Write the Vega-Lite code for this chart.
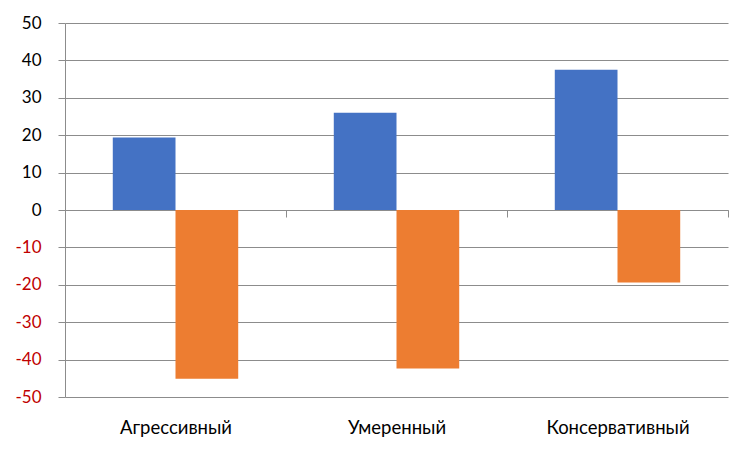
{
  "$schema": "https://vega.github.io/schema/vega-lite/v6.json",
  "autosize": {"type": "none"},
  "padding": {"left": 65, "top": 23, "right": 23, "bottom": 54},
  "width": 663,
  "height": 374,
  "background": "white",
  "data": {
    "values": [
      {"category": "Агрессивный", "series": "A", "value": 19.4},
      {"category": "Агрессивный", "series": "B", "value": -45.1},
      {"category": "Умеренный", "series": "A", "value": 26.0},
      {"category": "Умеренный", "series": "B", "value": -42.4},
      {"category": "Консервативный", "series": "A", "value": 37.5},
      {"category": "Консервативный", "series": "B", "value": -19.4}
    ]
  },
  "mark": {"type": "bar", "strokeWidth": 0},
  "encoding": {
    "x": {
      "field": "category",
      "type": "nominal",
      "sort": null,
      "scale": {"paddingInner": 0, "paddingOuter": 0},
      "axis": {
        "title": null,
        "labelAngle": 0,
        "offset": -187,
        "tickBand": "extent",
        "tickSize": 7,
        "tickColor": "#8c8c8c",
        "domainColor": "#8c8c8c",
        "labelPadding": 210,
        "labelFont": "Lato",
        "labelFontSize": 18.5,
        "labelColor": "#000000",
        "labelBaseline": "middle"
      }
    },
    "xOffset": {
      "field": "series",
      "type": "nominal",
      "scale": {"paddingInner": 0, "paddingOuter": 0.762}
    },
    "y": {
      "field": "value",
      "type": "quantitative",
      "scale": {"domain": [-50, 50], "nice": false},
      "axis": {
        "title": null,
        "values": [-50, -40, -30, -20, -10, 0, 10, 20, 30, 40, 50],
        "labelExpr": "'' + datum.value",
        "tickSize": 7,
        "tickColor": "#8c8c8c",
        "domainColor": "#8c8c8c",
        "gridColor": "#8c8c8c",
        "grid": true,
        "labelPadding": 17,
        "labelFont": "Lato",
        "labelFontSize": 17,
        "labelColor": {"condition": {"test": "datum.value < 0", "value": "#c00000"}, "value": "#000000"}
      }
    },
    "color": {
      "field": "series",
      "type": "nominal",
      "scale": {"domain": ["A", "B"], "range": ["#4472c4", "#ed7d31"]},
      "legend": null
    }
  },
  "config": {
    "view": {"stroke": null}
  }
}
